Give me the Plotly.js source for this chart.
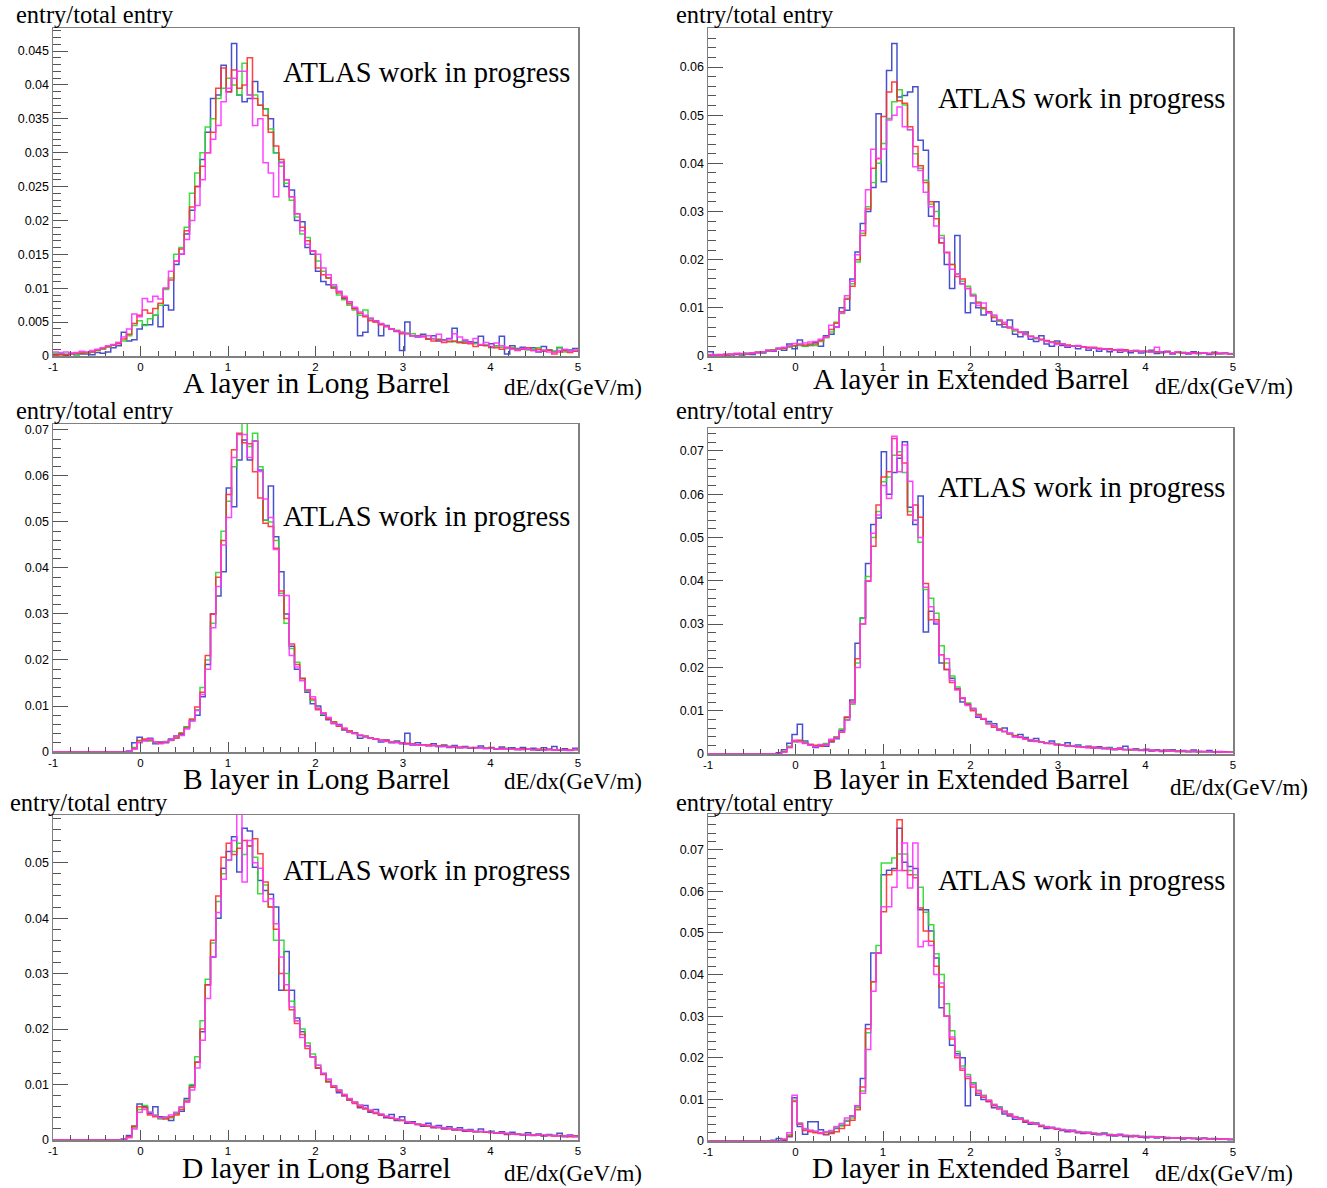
<!DOCTYPE html>
<html>
<head>
<meta charset="utf-8">
<script src="https://cdn.plot.ly/plotly-3.0.1.min.js"></script>
<style>
  html, body { margin: 0; padding: 0; background: #fff; }
  #chart { width: 1327px; height: 1188px; }
</style>
</head>
<body>
<div id="chart"></div>
<script>
// dE/dx distributions, 100 bins from -1 to 5 GeV/m, normalised to total entries.
const nBins = 100;
const xLow = -1;
const xHigh = 5;
const xTickValues = [-1, 0, 1, 2, 3, 4, 5];
const xTickLabels = ['-1', '0', '1', '2', '3', '4', '5'];
const panelTitles = ['A layer in Long Barrel', 'A layer in Extended Barrel',
  'B layer in Long Barrel', 'B layer in Extended Barrel',
  'D layer in Long Barrel', 'D layer in Extended Barrel'];
const yAxisTitle = 'entry/total entry';
const xAxisTitle = 'dE/dx(GeV/m)';
const stamp = 'ATLAS work in progress';

// ---- A layer, Long Barrel ----
const aLongBlue = [
  .0002,.0003,.0001,.0004,.0002,.0003,.0003,.0002,.0005,.0004,
  .0006,.0012,.0015,.0035,.0022,.0024,.0040,.0046,.0046,.0060,
  .0043,.0075,.0068,.0135,.0150,.0180,.0215,.0250,.0290,.0330,
  .0380,.0385,.0429,.0390,.0461,.0385,.0375,.0380,.0405,.0390,
  .0365,.0350,.0300,.0286,.0250,.0245,.0200,.0198,.0160,.0150,
  .0125,.0110,.0105,.0102,.0095,.0085,.0080,.0070,.0030,.0035,
  .0055,.0052,.0030,.0045,.0040,.0036,.0008,.0050,.0030,.0028,
  .0032,.0025,.0030,.0022,.0024,.0026,.0041,.0020,.0022,.0021,
  .0020,.0029,.0016,.0018,.0015,.0029,.0003,.0015,.0011,.0013,
  .0010,.0012,.0006,.0014,.0009,.0007,.0012,.0008,.0009,.0011];
const aLongRed = [
  .0001,.0002,.0002,.0003,.0004,.0004,.0005,.0006,.0009,.0011,
  .0014,.0016,.0018,.0025,.0032,.0048,.0060,.0068,.0063,.0070,
  .0078,.0100,.0112,.0140,.0158,.0185,.0220,.0250,.0280,.0300,
  .0330,.0395,.0425,.0390,.0422,.0395,.0400,.0440,.0380,.0370,
  .0355,.0330,.0310,.0290,.0260,.0235,.0210,.0190,.0170,.0155,
  .0130,.0120,.0115,.0100,.0093,.0086,.0077,.0070,.0063,.0058,
  .0052,.0050,.0046,.0043,.0040,.0037,.0033,.0033,.0030,.0030,
  .0029,.0025,.0022,.0024,.0020,.0021,.0022,.0020,.0019,.0018,
  .0014,.0016,.0015,.0013,.0012,.0010,.0013,.0011,.0008,.0010,
  .0012,.0008,.0010,.0007,.0009,.0003,.0006,.0008,.0005,.0007];
const aLongGreen = [
  .0004,.0002,.0003,.0003,.0002,.0005,.0004,.0006,.0008,.0010,
  .0013,.0016,.0020,.0022,.0030,.0045,.0052,.0045,.0055,.0060,
  .0075,.0098,.0115,.0150,.0160,.0190,.0240,.0270,.0300,.0338,
  .0350,.0380,.0395,.0410,.0400,.0385,.0432,.0385,.0385,.0370,
  .0365,.0335,.0300,.0280,.0255,.0230,.0205,.0180,.0175,.0155,
  .0140,.0125,.0115,.0103,.0090,.0083,.0075,.0068,.0060,.0068,
  .0055,.0050,.0047,.0044,.0040,.0038,.0035,.0034,.0033,.0030,
  .0029,.0026,.0025,.0025,.0023,.0022,.0021,.0021,.0019,.0019,
  .0018,.0016,.0016,.0012,.0015,.0013,.0011,.0012,.0010,.0010,
  .0009,.0010,.0012,.0008,.0009,.0007,.0013,.0006,.0008,.0007];
const aLongMagenta = [
  .0006,.0005,.0006,.0004,.0005,.0007,.0006,.0008,.0010,.0012,
  .0015,.0017,.0020,.0028,.0040,.0062,.0058,.0085,.0080,.0088,
  .0084,.0100,.0125,.0140,.0150,.0172,.0200,.0222,.0260,.0300,
  .0320,.0340,.0375,.0395,.0410,.0420,.0420,.0385,.0340,.0350,
  .0285,.0270,.0235,.0285,.0260,.0235,.0210,.0185,.0165,.0155,
  .0150,.0130,.0120,.0105,.0095,.0088,.0080,.0072,.0065,.0060,
  .0056,.0052,.0048,.0044,.0040,.0037,.0035,.0033,.0030,.0029,
  .0028,.0030,.0026,.0032,.0023,.0025,.0033,.0028,.0024,.0020,
  .0026,.0017,.0020,.0014,.0019,.0015,.0012,.0010,.0009,.0011,
  .0010,.0008,.0007,.0009,.0006,.0005,.0008,.0010,.0007,.0009];

// ---- A layer, Extended Barrel ----
const aExtBlue = [
  .0009,.0002,0,.0002,0,.0005,.0002,.0004,.0003,.0008,
  .0006,.0012,.0010,.0016,.0012,.0025,.0015,.0033,.0020,.0022,
  .0028,.0020,.0042,.0045,.0060,.0100,.0095,.0160,.0216,.0275,
  .0300,.0350,.0503,.0362,.0593,.0649,.0538,.0541,.0548,.0559,
  .0448,.0427,.0290,.0320,.0235,.0190,.0140,.0250,.0150,.0090,
  .0110,.0100,.0085,.0090,.0072,.0065,.0060,.0075,.0045,.0040,
  .0050,.0035,.0030,.0042,.0025,.0020,.0031,.0022,.0018,.0020,
  .0015,.0019,.0012,.0016,.0010,.0014,.0009,.0012,.0008,.0011,
  .0007,.0010,.0006,.0009,.0012,.0005,.0007,.0010,.0004,.0008,
  .0006,.0004,.0009,.0005,.0006,.0003,.0008,.0005,.0006,.0004];
const aExtRed = [
  .0002,.0001,.0003,.0002,.0004,.0003,.0005,.0004,.0006,.0008,
  .0009,.0011,.0012,.0015,.0016,.0020,.0022,.0024,.0023,.0025,
  .0025,.0032,.0040,.0055,.0068,.0092,.0118,.0145,.0200,.0250,
  .0305,.0390,.0410,.0497,.0548,.0569,.0530,.0525,.0476,.0435,
  .0395,.0360,.0320,.0285,.0235,.0215,.0190,.0165,.0160,.0140,
  .0125,.0110,.0100,.0092,.0080,.0074,.0066,.0058,.0055,.0049,
  .0046,.0041,.0038,.0035,.0032,.0029,.0027,.0025,.0023,.0021,
  .0021,.0019,.0018,.0018,.0016,.0015,.0015,.0013,.0012,.0013,
  .0011,.0011,.0010,.0010,.0009,.0009,.0008,.0009,.0007,.0008,
  .0007,.0006,.0007,.0006,.0006,.0005,.0006,.0005,.0005,.0004];
const aExtGreen = [
  .0001,.0003,.0002,.0003,.0002,.0004,.0003,.0006,.0005,.0007,
  .0008,.0010,.0013,.0014,.0017,.0018,.0021,.0022,.0020,.0023,
  .0022,.0030,.0038,.0050,.0070,.0088,.0120,.0150,.0195,.0255,
  .0310,.0360,.0400,.0441,.0493,.0528,.0553,.0521,.0470,.0420,
  .0390,.0365,.0315,.0300,.0250,.0215,.0190,.0170,.0155,.0145,
  .0128,.0112,.0098,.0092,.0083,.0072,.0066,.0060,.0052,.0050,
  .0044,.0041,.0036,.0034,.0031,.0029,.0026,.0025,.0022,.0021,
  .0020,.0019,.0017,.0017,.0015,.0015,.0014,.0013,.0012,.0012,
  .0011,.0010,.0010,.0009,.0010,.0008,.0008,.0009,.0007,.0007,
  .0008,.0006,.0006,.0005,.0007,.0005,.0006,.0004,.0005,.0005];
const aExtMagenta = [
  .0003,.0002,.0002,.0004,.0003,.0005,.0004,.0005,.0007,.0006,
  .0009,.0012,.0011,.0016,.0018,.0021,.0026,.0025,.0027,.0029,
  .0030,.0035,.0040,.0064,.0060,.0090,.0125,.0155,.0210,.0260,
  .0345,.0429,.0410,.0430,.0490,.0500,.0517,.0476,.0470,.0393,
  .0385,.0340,.0310,.0270,.0245,.0215,.0180,.0170,.0150,.0140,
  .0125,.0105,.0110,.0090,.0085,.0075,.0070,.0060,.0055,.0050,
  .0045,.0040,.0038,.0033,.0030,.0028,.0024,.0025,.0021,.0020,
  .0022,.0018,.0016,.0017,.0014,.0015,.0013,.0012,.0014,.0010,
  .0011,.0012,.0009,.0010,.0008,.0018,.0009,.0008,.0007,.0009,
  .0006,.0007,.0005,.0006,.0007,.0005,.0004,.0006,.0005,.0004];

// ---- B layer, Long Barrel ----
const bLongBlue = [
  0,0,0,0,0,0,0,0,0,0,
  0,0,0,0,.0002,.0020,.0032,.0025,.0030,.0018,
  .0022,.0020,.0028,.0035,.0038,.0055,.0068,.0080,.0120,.0190,
  .0300,.0339,.0392,.0574,.0533,.0635,.0678,.0635,.0676,.0613,
  .0504,.0578,.0468,.0392,.0300,.0230,.0180,.0160,.0130,.0105,
  .0100,.0080,.0070,.0062,.0060,.0048,.0044,.0042,.0030,.0034,
  .0030,.0028,.0022,.0026,.0020,.0024,.0018,.0041,.0015,.0020,
  .0016,.0014,.0018,.0012,.0015,.0010,.0014,.0009,.0012,.0008,
  .0010,.0013,.0008,.0010,.0006,.0011,.0007,.0009,.0005,.0010,
  .0006,.0008,.0004,.0009,.0006,.0012,.0005,.0007,.0004,.0008];
const bLongRed = [
  0,0,0,0,0,0,0,0,0,0,
  0,0,0,0,0,.0008,.0025,.0028,.0026,.0022,
  .0020,.0021,.0026,.0030,.0040,.0052,.0072,.0098,.0130,.0210,
  .0300,.0380,.0460,.0560,.0657,.0693,.0672,.0670,.0609,.0552,
  .0497,.0490,.0443,.0350,.0290,.0235,.0190,.0160,.0135,.0115,
  .0092,.0085,.0072,.0065,.0056,.0050,.0046,.0040,.0036,.0034,
  .0031,.0028,.0026,.0025,.0022,.0021,.0020,.0019,.0018,.0016,
  .0016,.0015,.0014,.0013,.0013,.0012,.0011,.0011,.0010,.0010,
  .0009,.0009,.0008,.0009,.0007,.0008,.0007,.0007,.0006,.0007,
  .0006,.0005,.0006,.0005,.0006,.0005,.0004,.0005,.0004,.0005];
const bLongGreen = [
  0,0,0,0,0,0,0,0,0,0,
  0,0,0,0,0,.0010,.0022,.0026,.0024,.0020,
  .0019,.0023,.0025,.0032,.0042,.0055,.0070,.0092,.0140,.0200,
  .0280,.0390,.0480,.0545,.0620,.0690,.0715,.0664,.0693,.0620,
  .0504,.0500,.0460,.0345,.0280,.0225,.0195,.0160,.0132,.0112,
  .0095,.0082,.0073,.0066,.0056,.0050,.0044,.0041,.0036,.0032,
  .0030,.0028,.0025,.0024,.0021,.0021,.0019,.0018,.0017,.0016,
  .0015,.0014,.0014,.0013,.0012,.0012,.0011,.0010,.0010,.0009,
  .0009,.0009,.0008,.0008,.0007,.0007,.0008,.0006,.0007,.0006,
  .0006,.0005,.0006,.0005,.0005,.0004,.0005,.0004,.0004,.0005];
const bLongMagenta = [
  0,0,0,0,0,0,0,0,0,0,
  0,0,0,0,0,.0006,.0020,.0024,.0028,.0021,
  .0018,.0022,.0026,.0034,.0036,.0050,.0068,.0090,.0125,.0180,
  .0270,.0360,.0450,.0510,.0640,.0690,.0690,.0640,.0676,.0610,
  .0550,.0510,.0440,.0340,.0340,.0210,.0185,.0155,.0135,.0120,
  .0095,.0085,.0075,.0062,.0058,.0052,.0043,.0040,.0037,.0033,
  .0030,.0029,.0025,.0023,.0022,.0020,.0019,.0017,.0017,.0015,
  .0015,.0013,.0014,.0012,.0012,.0011,.0012,.0009,.0010,.0009,
  .0008,.0009,.0007,.0008,.0007,.0006,.0007,.0006,.0006,.0005,
  .0006,.0005,.0005,.0004,.0005,.0004,.0005,.0004,.0003,.0006];

// ---- B layer, Extended Barrel ----
const bExtBlue = [
  0,0,0,0,0,0,0,0,0,0,
  0,0,0,.0003,.0010,.0025,.0045,.0069,.0030,.0022,
  .0015,.0020,.0018,.0028,.0035,.0055,.0085,.0125,.0256,.0314,
  .0440,.0530,.0545,.0698,.0600,.0650,.0683,.0721,.0570,.0530,
  .0596,.0282,.0330,.0300,.0210,.0195,.0175,.0150,.0120,.0115,
  .0105,.0085,.0080,.0075,.0070,.0055,.0060,.0048,.0040,.0045,
  .0038,.0030,.0036,.0028,.0025,.0030,.0022,.0020,.0026,.0018,
  .0021,.0016,.0018,.0014,.0017,.0012,.0015,.0010,.0014,.0018,
  .0010,.0012,.0008,.0011,.0007,.0010,.0006,.0009,.0010,.0006,
  .0008,.0005,.0009,.0006,.0005,.0008,.0004,.0006,.0005,.0004];
const bExtRed = [
  0,0,0,0,0,0,0,0,0,0,
  0,0,0,0,.0005,.0015,.0030,.0032,.0025,.0022,
  .0020,.0018,.0022,.0030,.0038,.0050,.0085,.0120,.0220,.0300,
  .0399,.0480,.0575,.0640,.0652,.0729,.0690,.0672,.0552,.0575,
  .0547,.0394,.0310,.0310,.0229,.0195,.0165,.0150,.0128,.0115,
  .0100,.0090,.0080,.0070,.0062,.0057,.0052,.0046,.0042,.0038,
  .0035,.0032,.0030,.0028,.0025,.0024,.0022,.0020,.0019,.0018,
  .0017,.0016,.0016,.0015,.0014,.0013,.0012,.0012,.0011,.0010,
  .0010,.0010,.0009,.0009,.0008,.0008,.0008,.0007,.0007,.0007,
  .0006,.0006,.0006,.0005,.0006,.0005,.0005,.0004,.0005,.0004];
const bExtGreen = [
  0,0,0,0,0,0,0,0,0,0,
  0,0,0,0,.0006,.0018,.0028,.0030,.0027,.0020,
  .0019,.0021,.0024,.0032,.0040,.0058,.0080,.0115,.0210,.0314,
  .0410,.0500,.0560,.0629,.0640,.0690,.0698,.0650,.0560,.0540,
  .0489,.0380,.0360,.0325,.0250,.0210,.0180,.0155,.0130,.0118,
  .0102,.0092,.0080,.0072,.0065,.0058,.0052,.0047,.0043,.0039,
  .0036,.0033,.0030,.0028,.0026,.0024,.0023,.0021,.0020,.0019,
  .0018,.0016,.0016,.0015,.0014,.0014,.0013,.0012,.0012,.0011,
  .0010,.0011,.0009,.0009,.0009,.0008,.0008,.0007,.0008,.0007,
  .0006,.0007,.0006,.0005,.0006,.0005,.0005,.0004,.0005,.0004];
const bExtMagenta = [
  0,0,0,0,0,0,0,0,0,0,
  0,0,0,0,.0004,.0015,.0032,.0028,.0024,.0020,
  .0017,.0022,.0021,.0034,.0037,.0052,.0078,.0118,.0200,.0300,
  .0400,.0510,.0552,.0620,.0590,.0734,.0652,.0714,.0630,.0540,
  .0500,.0385,.0340,.0305,.0229,.0220,.0170,.0148,.0130,.0112,
  .0105,.0088,.0082,.0070,.0065,.0055,.0052,.0048,.0040,.0040,
  .0034,.0033,.0029,.0028,.0024,.0025,.0021,.0021,.0018,.0019,
  .0016,.0017,.0014,.0016,.0013,.0014,.0012,.0011,.0013,.0010,
  .0011,.0009,.0010,.0008,.0009,.0008,.0007,.0008,.0007,.0006,
  .0007,.0006,.0005,.0006,.0005,.0005,.0004,.0005,.0004,.0004];

// ---- D layer, Long Barrel ----
const dLongBlue = [
  0,0,0,0,0,0,0,0,0,0,
  0,0,0,.0002,.0008,.0025,.0065,.0060,.0048,.0060,
  .0042,.0040,.0035,.0048,.0052,.0075,.0098,.0140,.0195,.0280,
  .0330,.0400,.0490,.0520,.0547,.0483,.0562,.0557,.0492,.0468,
  .0450,.0443,.0420,.0270,.0340,.0270,.0220,.0195,.0170,.0150,
  .0130,.0120,.0105,.0095,.0085,.0080,.0072,.0068,.0058,.0062,
  .0050,.0055,.0045,.0040,.0046,.0035,.0042,.0030,.0033,.0028,
  .0025,.0030,.0022,.0026,.0020,.0024,.0018,.0022,.0016,.0019,
  .0015,.0020,.0014,.0016,.0012,.0015,.0010,.0014,.0011,.0009,
  .0013,.0008,.0011,.0007,.0010,.0008,.0012,.0006,.0009,.0007];
const dLongRed = [
  0,0,0,0,0,0,0,0,0,0,
  0,0,0,0,.0006,.0025,.0060,.0058,.0045,.0042,
  .0040,.0038,.0042,.0045,.0055,.0070,.0095,.0140,.0200,.0280,
  .0360,.0440,.0510,.0535,.0515,.0526,.0540,.0530,.0543,.0516,
  .0465,.0420,.0380,.0300,.0270,.0235,.0210,.0190,.0165,.0150,
  .0130,.0118,.0105,.0095,.0088,.0080,.0072,.0066,.0060,.0056,
  .0052,.0048,.0045,.0042,.0039,.0037,.0035,.0032,.0030,.0028,
  .0027,.0025,.0024,.0022,.0021,.0020,.0019,.0018,.0017,.0016,
  .0015,.0015,.0014,.0013,.0013,.0012,.0011,.0011,.0010,.0010,
  .0009,.0009,.0009,.0008,.0008,.0007,.0008,.0007,.0006,.0007];
const dLongGreen = [
  0,0,0,0,0,0,0,0,0,0,
  0,0,0,0,.0005,.0022,.0055,.0062,.0050,.0045,
  .0038,.0040,.0040,.0048,.0058,.0072,.0100,.0150,.0215,.0290,
  .0355,.0430,.0480,.0505,.0520,.0535,.0515,.0530,.0510,.0444,
  .0460,.0420,.0360,.0360,.0300,.0250,.0215,.0200,.0175,.0155,
  .0135,.0120,.0108,.0098,.0090,.0082,.0074,.0068,.0062,.0057,
  .0053,.0049,.0046,.0043,.0040,.0038,.0035,.0033,.0031,.0029,
  .0027,.0026,.0024,.0023,.0022,.0021,.0020,.0019,.0018,.0017,
  .0016,.0015,.0015,.0014,.0013,.0012,.0012,.0011,.0011,.0010,
  .0010,.0009,.0009,.0008,.0009,.0008,.0007,.0008,.0007,.0006];
const dLongMagenta = [
  0,0,0,0,0,0,0,0,0,0,
  0,0,0,0,.0004,.0020,.0050,.0055,.0050,.0044,
  .0040,.0042,.0045,.0050,.0060,.0068,.0090,.0130,.0180,.0255,
  .0330,.0410,.0470,.0505,.0540,.0600,.0465,.0540,.0500,.0490,
  .0430,.0435,.0390,.0330,.0280,.0240,.0215,.0185,.0170,.0150,
  .0135,.0120,.0110,.0098,.0090,.0082,.0075,.0068,.0063,.0058,
  .0054,.0050,.0047,.0043,.0041,.0038,.0036,.0033,.0031,.0029,
  .0028,.0026,.0025,.0023,.0022,.0021,.0020,.0019,.0018,.0017,
  .0016,.0016,.0015,.0014,.0013,.0013,.0012,.0011,.0011,.0010,
  .0010,.0009,.0009,.0009,.0008,.0008,.0007,.0007,.0008,.0006];

// ---- D layer, Extended Barrel ----
const dExtBlue = [
  0,0,0,0,0,0,0,0,0,0,
  0,0,.0002,.0006,.0002,.0010,.0104,.0035,.0016,.0046,
  .0046,.0027,.0015,.0020,.0030,.0038,.0048,.0060,.0085,.0150,
  .0280,.0452,.0452,.0640,.0651,.0655,.0752,.0670,.0660,.0655,
  .0556,.0556,.0505,.0440,.0320,.0300,.0230,.0210,.0200,.0085,
  .0140,.0110,.0100,.0095,.0080,.0082,.0065,.0060,.0052,.0055,
  .0045,.0040,.0043,.0035,.0030,.0033,.0028,.0025,.0022,.0026,
  .0020,.0018,.0021,.0016,.0015,.0019,.0013,.0012,.0016,.0011,
  .0010,.0013,.0009,.0008,.0011,.0007,.0009,.0006,.0008,.0007,
  .0005,.0008,.0006,.0004,.0007,.0005,.0006,.0004,.0005,.0003];
const dExtRed = [
  0,0,0,0,0,0,0,0,0,0,
  0,0,0,0,.0003,.0012,.0095,.0040,.0025,.0022,
  .0020,.0018,.0016,.0018,.0022,.0030,.0038,.0050,.0075,.0130,
  .0270,.0383,.0452,.0551,.0640,.0650,.0772,.0650,.0640,.0633,
  .0560,.0505,.0480,.0420,.0370,.0300,.0245,.0200,.0170,.0150,
  .0130,.0115,.0105,.0095,.0085,.0077,.0070,.0063,.0057,.0052,
  .0047,.0043,.0040,.0036,.0033,.0031,.0029,.0027,.0025,.0023,
  .0022,.0020,.0019,.0018,.0017,.0016,.0015,.0014,.0013,.0013,
  .0012,.0011,.0011,.0010,.0010,.0009,.0009,.0008,.0008,.0007,
  .0007,.0007,.0006,.0006,.0006,.0005,.0005,.0005,.0004,.0004];
const dExtGreen = [
  0,0,0,0,0,0,0,0,0,0,
  0,0,0,0,.0004,.0015,.0098,.0043,.0028,.0025,
  .0022,.0020,.0021,.0022,.0032,.0036,.0050,.0055,.0080,.0120,
  .0260,.0383,.0470,.0668,.0668,.0680,.0690,.0690,.0650,.0640,
  .0610,.0550,.0520,.0450,.0400,.0330,.0265,.0215,.0180,.0160,
  .0140,.0122,.0110,.0098,.0088,.0080,.0072,.0065,.0059,.0054,
  .0049,.0045,.0041,.0038,.0035,.0032,.0030,.0028,.0026,.0024,
  .0023,.0021,.0020,.0019,.0018,.0017,.0016,.0015,.0014,.0013,
  .0013,.0012,.0011,.0011,.0010,.0010,.0009,.0009,.0008,.0008,
  .0007,.0007,.0007,.0006,.0006,.0006,.0005,.0005,.0005,.0004];
const dExtMagenta = [
  0,0,0,0,0,0,0,0,0,0,
  0,0,0,0,.0005,.0020,.0110,.0042,.0030,.0026,
  .0024,.0020,.0022,.0025,.0035,.0042,.0055,.0060,.0085,.0115,
  .0220,.0360,.0452,.0563,.0563,.0610,.0650,.0716,.0608,.0716,
  .0467,.0480,.0470,.0400,.0380,.0300,.0250,.0205,.0175,.0155,
  .0135,.0120,.0108,.0098,.0088,.0078,.0071,.0065,.0058,.0053,
  .0049,.0044,.0041,.0037,.0034,.0032,.0030,.0027,.0026,.0024,
  .0022,.0021,.0020,.0018,.0017,.0016,.0015,.0015,.0014,.0013,
  .0012,.0012,.0011,.0010,.0010,.0009,.0009,.0008,.0008,.0008,
  .0007,.0007,.0006,.0006,.0006,.0005,.0005,.0005,.0004,.0004];

// ---------------------------------------------------------------
const W = 1327, H = 1188;
const lineColors = ['rgb(52,62,200)', 'rgb(40,215,40)', 'rgb(255,45,45)', 'rgb(255,50,255)'];
const serif = 'Liberation Serif, Times New Roman, serif';
const sans = 'Liberation Sans, Arial, Helvetica, sans-serif';

// pad frames in pixels, plus axis settings per pad
const pads = [
  { series: [aLongBlue, aLongGreen, aLongRed, aLongMagenta], box: {l: 53, r: 578, t: 28, b: 356},
    yMax: 0.0484, dtick: 0.005, minor: 0.001,
    yLab: [14, 14], stampAt: [281, 73], titleAt: [316, 383], unitAt: [502, 388] },
  { series: [aExtBlue, aExtGreen, aExtRed, aExtMagenta], box: {l: 708, r: 1233, t: 28, b: 356},
    yMax: 0.0681, dtick: 0.01, minor: 0.002,
    yLab: [674, 14], stampAt: [936, 98], titleAt: [971, 379], unitAt: [1153, 386] },
  { series: [bLongBlue, bLongGreen, bLongRed, bLongMagenta], box: {l: 53, r: 578, t: 424, b: 752},
    yMax: 0.0713, dtick: 0.01, minor: 0.002,
    yLab: [14, 410], stampAt: [281, 517], titleAt: [316, 779], unitAt: [502, 782] },
  { series: [bExtBlue, bExtGreen, bExtRed, bExtMagenta], box: {l: 708, r: 1233, t: 428, b: 754},
    yMax: 0.0753, dtick: 0.01, minor: 0.002,
    yLab: [674, 410], stampAt: [936, 487], titleAt: [971, 779], unitAt: [1168, 787] },
  { series: [dLongBlue, dLongGreen, dLongRed, dLongMagenta], box: {l: 53, r: 578, t: 815, b: 1140},
    yMax: 0.0586, dtick: 0.01, minor: 0.002,
    yLab: [8, 802], stampAt: [281, 870], titleAt: [316, 1168], unitAt: [502, 1173] },
  { series: [dExtBlue, dExtGreen, dExtRed, dExtMagenta], box: {l: 708, r: 1233, t: 814, b: 1141},
    yMax: 0.0786, dtick: 0.01, minor: 0.002,
    yLab: [674, 802], stampAt: [936, 880], titleAt: [971, 1168], unitAt: [1153, 1173] }
];

// bin edges; the last bin content is repeated so the final step closes at x = 5
const binWidth = (xHigh - xLow) / nBins;
const edges = Array.from({length: nBins + 1}, (_, i) => +(xLow + i * binWidth).toFixed(4));

const px = v => v / W;
const py = v => 1 - v / H;

const traces = [];
const layout = {
  width: W, height: H,
  margin: {l: 0, r: 0, t: 0, b: 0},
  paper_bgcolor: '#fff', plot_bgcolor: '#fff',
  showlegend: false,
  annotations: []
};

pads.forEach((pad, i) => {
  const n = i === 0 ? '' : String(i + 1);
  pad.series.forEach((vals, j) => {
    traces.push({
      type: 'scatter', mode: 'lines',
      x: edges, y: vals.concat([vals[vals.length - 1]]),
      xaxis: 'x' + n, yaxis: 'y' + n,
      line: {shape: 'hv', color: lineColors[j], width: 1.5},
      opacity: 0.9,
      hoverinfo: 'skip'
    });
  });

  const axisCommon = {
    showline: true, linecolor: '#808080', linewidth: 1.5, mirror: true,
    showgrid: false, zeroline: false, ticks: 'inside', tickcolor: '#555', tickwidth: 1,
    tickfont: {family: sans, size: 12.5, color: '#000'}, fixedrange: true
  };
  layout['xaxis' + n] = Object.assign({}, axisCommon, {
    domain: [px(pad.box.l), px(pad.box.r)], anchor: 'y' + n,
    range: [xLow, xHigh], tickmode: 'array', tickvals: xTickValues, ticktext: xTickLabels,
    ticklen: 10, tickfont: {family: sans, size: 11.5, color: '#000'},
    minor: {dtick: 0.2, tick0: 0, ticks: 'inside', ticklen: 5, tickcolor: '#555', tickwidth: 1, showgrid: false}
  });
  layout['yaxis' + n] = Object.assign({}, axisCommon, {
    domain: [py(pad.box.b), py(pad.box.t)], anchor: 'x' + n,
    range: [0, pad.yMax], tick0: 0, dtick: pad.dtick, ticklen: 15, ticklabelstandoff: 0,
    minor: {dtick: pad.minor, tick0: 0, ticks: 'inside', ticklen: 8, tickcolor: '#555', tickwidth: 1, showgrid: false}
  });

  const txt = (text, x, y, size, xanchor) => ({
    text, xref: 'paper', yref: 'paper', x: px(x), y: py(y),
    xanchor, yanchor: 'middle', showarrow: false,
    font: {family: serif, size, color: '#000'}
  });
  layout.annotations.push(
    txt(yAxisTitle, pad.yLab[0], pad.yLab[1], 24.5, 'left'),
    txt(stamp, pad.stampAt[0], pad.stampAt[1], 28.5, 'left'),
    txt(panelTitles[i], pad.titleAt[0], pad.titleAt[1], 29.5, 'center'),
    txt(xAxisTitle, pad.unitAt[0], pad.unitAt[1], 23, 'left')
  );
});

Plotly.newPlot('chart', traces, layout, {staticPlot: true, displayModeBar: false});
</script>
</body>
</html>
